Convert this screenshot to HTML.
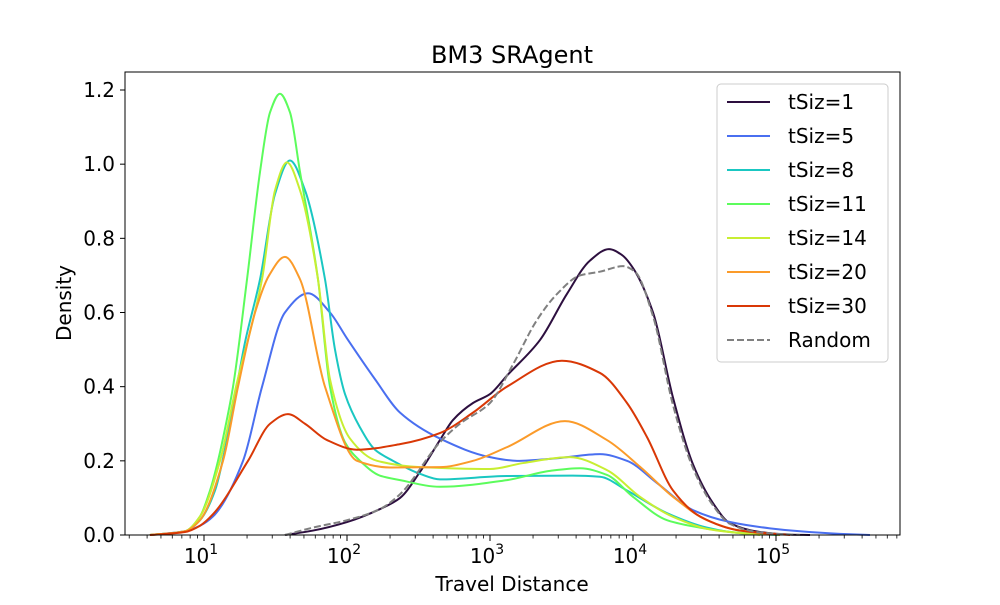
<!DOCTYPE html>
<html><head><meta charset="utf-8"><style>
body{margin:0;background:#fff;}
svg{font-family:"DejaVu Sans","Liberation Sans",sans-serif;}
</style></head><body>
<svg id="chart" width="1000" height="600" viewBox="0 0 1000 600" xmlns="http://www.w3.org/2000/svg">
<rect width="1000" height="600" fill="#fff"/>
<text x="512" y="63" font-size="24" text-anchor="middle">BM3 SRAgent</text>
<g id="series"></g>
<rect x="125" y="72" width="775" height="463" fill="none" stroke="#000" stroke-width="1"/>
<g id="axes"></g>
<text x="512" y="591" font-size="20" text-anchor="middle">Travel Distance</text>
<text transform="translate(71,303) rotate(-90)" font-size="20" text-anchor="middle">Density</text>
<g id="legend"></g>
</svg>
<script>
const seriesNames=["tSiz=1","tSiz=5","tSiz=8","tSiz=11","tSiz=14","tSiz=20","tSiz=30","Random"];
const seriesColors=["#2d0f3f","#4a6ff0","#1ac7c2","#5cfc5c","#c8ee32","#fb9b2a","#d93806","#808080"];
// points: [screen-decade position, density], converted to log10(distance) below
const lx=p=>+(1+(p-204)/143).toFixed(3);
const s1=[[285,0],[313,0.012],[347,0.035],[380,0.07],[400,0.1],[420,0.17],[440,0.256],[453,0.31],[473,0.356],[490,0.38],[507,0.43],[540,0.526],[567,0.65],[590,0.74],[609,0.771],[622,0.755],[633,0.72],[653,0.6],[673,0.37],[693,0.19],[713,0.086],[730,0.032],[760,0.008],[790,0.001],[810,0]];
const s5=[[150,0],[185,0.01],[200,0.025],[213,0.05],[243,0.2],[262,0.4],[285,0.6],[308,0.652],[330,0.6],[347,0.53],[375,0.42],[400,0.33],[440,0.26],[490,0.21],[517,0.2],[557,0.207],[600,0.218],[627,0.2],[657,0.14],[693,0.067],[730,0.035],[770,0.018],[800,0.01],[840,0.003],[870,0]];
const s8=[[150,0],[185,0.01],[200,0.04],[215,0.12],[230,0.3],[245,0.52],[260,0.69],[275,0.92],[290,1.01],[305,0.93],[325,0.69],[335,0.5],[345,0.38],[360,0.29],[375,0.23],[393,0.2],[420,0.165],[440,0.15],[507,0.159],[573,0.16],[600,0.157],[627,0.12],[667,0.059],[707,0.02],[740,0.005],[780,0]];
const s11=[[150,0],[185,0.01],[200,0.05],[210,0.12],[218,0.2],[226,0.3],[233,0.4],[247,0.69],[260,0.98],[270,1.14],[280,1.19],[290,1.14],[300,0.98],[318,0.69],[330,0.4],[345,0.25],[360,0.2],[380,0.16],[400,0.148],[440,0.13],[507,0.148],[550,0.173],[580,0.18],[607,0.162],[633,0.103],[667,0.04],[700,0.02],[740,0.006],[780,0]];
const s14=[[150,0],[185,0.01],[200,0.05],[220,0.2],[236,0.4],[262,0.69],[275,0.93],[287,1.005],[300,0.93],[318,0.69],[330,0.42],[350,0.26],[377,0.2],[420,0.183],[490,0.178],[523,0.194],[570,0.21],[607,0.175],[640,0.103],[673,0.049],[710,0.015],[760,0]];
const s20=[[150,0],[185,0.01],[200,0.04],[223,0.2],[238,0.4],[255,0.6],[269,0.7],[285,0.75],[300,0.69],[325,0.4],[357,0.2],[390,0.182],[440,0.183],[473,0.2],[507,0.237],[565,0.307],[607,0.256],[640,0.184],[673,0.103],[707,0.04],[740,0.012],[780,0]];
const s30=[[150,0],[185,0.008],[200,0.025],[213,0.056],[248,0.2],[270,0.3],[288,0.326],[305,0.3],[327,0.256],[357,0.23],[400,0.245],[440,0.275],[473,0.33],[507,0.4],[562,0.47],[600,0.437],[627,0.356],[647,0.264],[673,0.12],[700,0.05],[740,0.012],[790,0]];
const sR=[[285,0],[313,0.02],[347,0.04],[380,0.07],[400,0.11],[440,0.25],[460,0.3],[490,0.356],[513,0.46],[537,0.58],[557,0.65],[580,0.7],[600,0.71],[623,0.725],[635,0.71],[653,0.59],[673,0.35],[693,0.18],[713,0.08],[730,0.03],[760,0.007],[800,0]];
const seriesData=[s1,s5,s8,s11,s14,s20,s30,sR].map(s=>s.map(p=>[lx(p[0]),p[1]]));
const yTicks=[0,0.2,0.4,0.6,0.8,1.0,1.2];
const xTicks=[1,2,3,4,5];

const X=l=>204+(l-1)*143;
const Y=v=>535-v*(445/1.2);
const NS="http://www.w3.org/2000/svg";
function mk(t,a,p){const e=document.createElementNS(NS,t);for(const k in a)e.setAttribute(k,a[k]);p.appendChild(e);return e;}
const axes=document.getElementById('axes');
yTicks.forEach(v=>{
 const t=mk('line',{x1:120,x2:125,y1:Y(v),y2:Y(v),stroke:'#000'},axes);
 
 
 const tx=mk('text',{x:115,y:Y(v)+7,'font-size':20,'text-anchor':'end'},axes);
 
 
 tx.textContent=v.toFixed(1);
});
xTicks.forEach(d=>{
 const t=mk('line',{x1:X(d),x2:X(d),y1:535,y2:541,stroke:'#000'},axes);
 
 
 const tx=mk('text',{x:X(d)-3,y:563,'font-size':20,'text-anchor':'middle'},axes);
 
 
 tx.innerHTML='10<tspan dy="-9" font-size="14">'+d+'</tspan>';
});
for(let d=0;d<=5;d++)for(let m=2;m<=9;m++){const l=d+Math.log10(m);const px=X(l);if(px<125||px>900)continue;
 const t=mk('line',{x1:px,x2:px,y1:535,y2:538.5,stroke:'#000','stroke-width':0.8},axes);
 
 }
// monotone cubic (Fritsch-Carlson) in screen space
function path(pts){
 const P=pts.map(p=>[X(p[0]),Y(p[1])]);const n=P.length;
 const dx=[],m=[];for(let i=0;i<n-1;i++){dx.push(P[i+1][0]-P[i][0]);m.push((P[i+1][1]-P[i][1])/dx[i]);}
 const t=new Array(n);t[0]=m[0];t[n-1]=m[n-2];
 for(let i=1;i<n-1;i++){if(m[i-1]*m[i]<=0)t[i]=0;else{const w1=2*dx[i]+dx[i-1],w2=dx[i]+2*dx[i-1];t[i]=(w1+w2)/(w1/m[i-1]+w2/m[i]);}}
 let d='M'+P[0][0]+','+P[0][1];
 for(let i=0;i<n-1;i++){const h=dx[i]/3;
  d+=`C${P[i][0]+h},${P[i][1]+t[i]*h} ${P[i+1][0]-h},${P[i+1][1]-t[i+1]*h} ${P[i+1][0]},${P[i+1][1]}`;}
 return d;}
const sg=document.getElementById('series');
seriesData.forEach((s,i)=>{
 const a={d:path(s),fill:'none',stroke:seriesColors[i],'stroke-width':2};
 if(i===7)a['stroke-dasharray']='7,3';
 const e=mk('path',a,sg);
 
 
});
const lg=document.getElementById('legend');
const box=mk('rect',{x:717,y:84,width:171,height:278,rx:4,fill:'#fff',stroke:'#ccc','fill-opacity':0.8},lg);


seriesNames.forEach((n,i)=>{
 const y=102+i*34;
 const g=mk('g',{},lg);
 
 
 const a={x1:727,x2:770,y1:y,y2:y,stroke:seriesColors[i],'stroke-width':2};
 if(i===7)a['stroke-dasharray']='7,3';
 mk('line',a,g);
 const t=mk('text',{x:788,y:y+7,'font-size':20},g);t.textContent=n;
});
</script>
</body></html>
